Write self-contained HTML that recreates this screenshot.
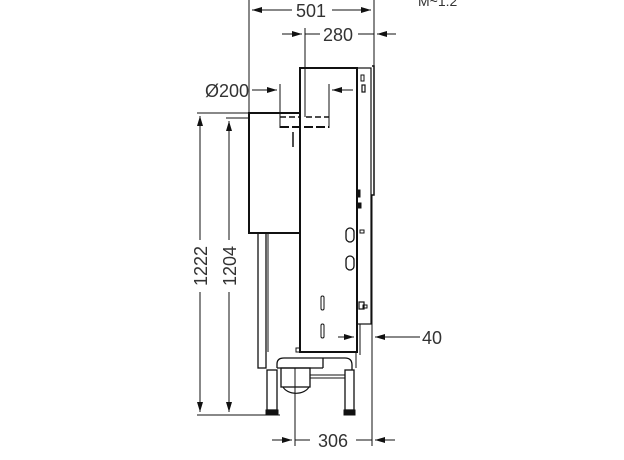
<!DOCTYPE html>
<html><head><style>
html,body{margin:0;padding:0;background:#fff;}
svg{display:block;}
text{font-family:"Liberation Sans",sans-serif;font-size:18px;fill:#333;}
</style></head><body>
<svg width="624" height="460" viewBox="0 0 624 460" xmlns="http://www.w3.org/2000/svg">
<defs>
<marker id="a" markerWidth="10" markerHeight="6" refX="10" refY="3" orient="auto" markerUnits="userSpaceOnUse"><path d="M0,0 L10,3 L0,6 z" fill="#111"/></marker>
</defs>
<g stroke="#111" stroke-width="1" fill="none">
<line x1="249" y1="0" x2="249" y2="113"/>
<line x1="374" y1="0" x2="374" y2="66"/>
<line x1="305" y1="28" x2="305" y2="117"/>
<line x1="280" y1="84" x2="280" y2="128"/>
<line x1="329" y1="84" x2="329" y2="128"/>
<line x1="197" y1="113" x2="249" y2="113"/>
<line x1="226" y1="118" x2="249" y2="118"/>
<line x1="197" y1="415" x2="280" y2="415"/>
<line x1="295" y1="368" x2="295" y2="446"/>
<line x1="372" y1="195" x2="372" y2="446"/>
<line x1="292" y1="10" x2="252" y2="10" marker-end="url(#a)"/>
<line x1="332" y1="10" x2="371" y2="10" marker-end="url(#a)"/>
<line x1="282" y1="34" x2="302" y2="34" marker-end="url(#a)"/>
<line x1="305" y1="34" x2="320" y2="34"/>
<line x1="358" y1="34" x2="374" y2="34"/>
<line x1="396" y1="34" x2="377" y2="34" marker-end="url(#a)"/>
<line x1="252" y1="90" x2="277" y2="90" marker-end="url(#a)"/>
<line x1="353" y1="90" x2="332" y2="90" marker-end="url(#a)"/>
<line x1="200" y1="240" x2="200" y2="116" marker-end="url(#a)"/>
<line x1="200" y1="292" x2="200" y2="412" marker-end="url(#a)"/>
<line x1="229" y1="240" x2="229" y2="121" marker-end="url(#a)"/>
<line x1="229" y1="292" x2="229" y2="412" marker-end="url(#a)"/>
<line x1="338" y1="337" x2="354" y2="337" marker-end="url(#a)"/>
<line x1="420" y1="337" x2="375" y2="337" marker-end="url(#a)"/>
<line x1="272" y1="440" x2="292" y2="440" marker-end="url(#a)"/>
<line x1="295" y1="440" x2="310" y2="440"/>
<line x1="356" y1="440" x2="372" y2="440"/>
<line x1="395" y1="440" x2="375" y2="440" marker-end="url(#a)"/>
</g>
<g stroke="#111" fill="none">
<rect x="300" y="68" width="57" height="284" stroke-width="2"/>
<rect x="357" y="68" width="14" height="256" stroke-width="1.2"/>
<polyline points="372,66 374,66 374,195 371,195" stroke-width="1.5"/>
<rect x="249" y="113" width="51" height="120" stroke-width="2"/>
<rect x="258" y="233" width="8" height="135" stroke-width="1.3"/>
<line x1="268" y1="233" x2="268" y2="352" stroke-width="1"/>
<line x1="293" y1="132" x2="293" y2="147" stroke-width="1.5"/>
<line x1="280" y1="117" x2="300" y2="117" stroke-width="1.5" stroke-dasharray="6,3"/>
<line x1="306" y1="117" x2="329" y2="117" stroke-width="1.5" stroke-dasharray="6,3"/>
<line x1="280" y1="127" x2="329" y2="127" stroke-width="2" stroke-dasharray="9,3"/>
<rect x="361" y="75" width="3" height="6" stroke-width="1"/>
<rect x="362" y="85" width="3" height="7" stroke-width="1.2"/>
<rect x="357" y="190" width="3" height="7" fill="#111"/>
<rect x="358" y="203" width="3" height="5" fill="#111"/>
<rect x="346" y="228" width="8" height="14" rx="4" stroke-width="1.3"/>
<rect x="346" y="256" width="8" height="14" rx="4" stroke-width="1.3"/>
<rect x="360" y="230" width="4" height="3" stroke-width="1"/>
<rect x="359" y="302" width="5" height="7" stroke-width="1.2"/>
<rect x="363" y="305" width="4" height="3" stroke-width="1"/>
<rect x="321" y="296" width="3" height="14" rx="1.5" stroke-width="1"/>
<rect x="321" y="324" width="3" height="14" rx="1.5" stroke-width="1"/>
<line x1="357" y1="324" x2="357" y2="352" stroke-width="1.2"/>
<line x1="360" y1="324" x2="360" y2="355" stroke-width="1"/>
<rect x="296" y="348" width="4" height="4" stroke-width="1"/>
<path d="M277,368 L277,364 Q277,358 284,358 L345,358 Q352,358 352,365 L352,370" stroke-width="1.3"/>
<line x1="277" y1="368" x2="323" y2="368" stroke-width="1.3"/>
<line x1="323" y1="358" x2="323" y2="368" stroke-width="1.3"/>
<rect x="281" y="368" width="29" height="19" stroke-width="1.3"/>
<path d="M283,387 A14,10 0 0 0 309,387" stroke-width="1.2"/>
<line x1="310" y1="375" x2="345" y2="375" stroke-width="1"/>
<line x1="310" y1="378" x2="345" y2="378" stroke-width="1"/>
<rect x="267" y="370" width="10" height="40" stroke-width="1.3"/>
<rect x="345" y="370" width="9" height="40" stroke-width="1.3"/>
<rect x="266" y="410" width="12" height="5" fill="#111"/>
<rect x="344" y="410" width="11" height="5" fill="#111"/>
<line x1="356" y1="352" x2="356" y2="368" stroke-width="1"/>
</g>
<g>
<text x="296" y="17">501</text>
<text x="323" y="41">280</text>
<text x="205" y="97">Ø200</text>
<text x="422" y="344">40</text>
<text x="318" y="447">306</text>
<text x="418" y="6" style="font-size:14px">M~1:2</text>
<text transform="translate(207,266) rotate(-90)" text-anchor="middle">1222</text>
<text transform="translate(236,266) rotate(-90)" text-anchor="middle">1204</text>
</g>
</svg>
</body></html>
